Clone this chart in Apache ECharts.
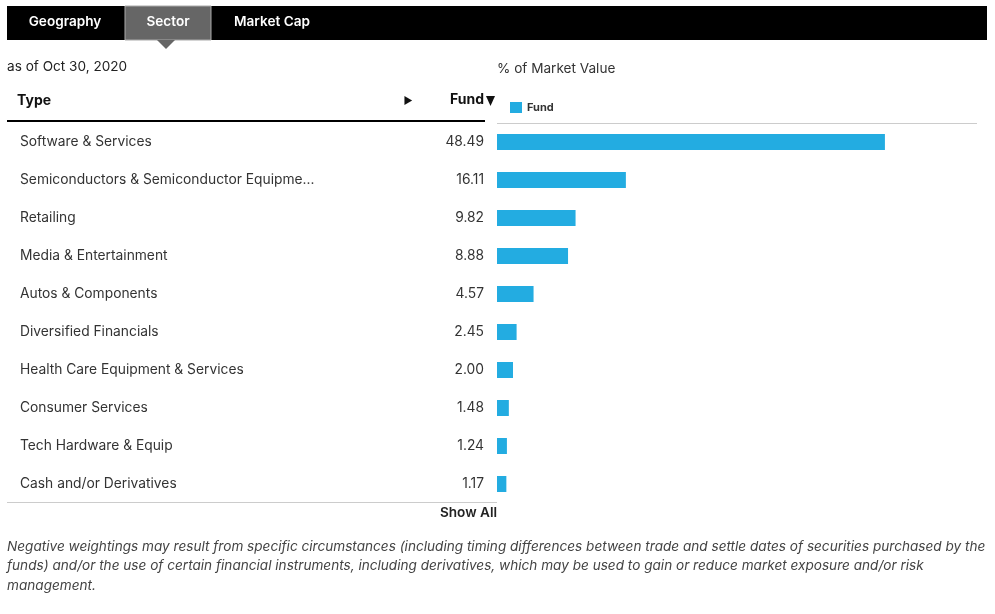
<!DOCTYPE html>
<html><head><meta charset="utf-8">
<script src="https://cdn.jsdelivr.net/npm/echarts@6/dist/echarts.min.js"></script>
<style>html,body{margin:0;padding:0;background:#fff}#c{width:995px;height:614px}</style>
</head><body><div id="c"></div>
<script>
const categories = ["Software & Services","Semiconductors & Semiconductor Equipme...","Retailing","Media & Entertainment","Autos & Components","Diversified Financials","Health Care Equipment & Services","Consumer Services","Tech Hardware & Equip","Cash and/or Derivatives"];
const fundValues = [48.49,16.11,9.82,8.88,4.57,2.45,2.00,1.48,1.24,1.17];
const tabs = ["Geography","Sector","Market Cap"];
const FF = "Inter, Roboto, sans-serif";
const chart = echarts.init(document.getElementById('c'));
const footnote = "Negative weightings may result from specific circumstances (including timing differences between trade and settle dates of securities purchased by the\nfunds) and/or the use of certain financial instruments, including derivatives, which may be used to gain or reduce market exposure and/or risk\nmanagement.";
chart.setOption({
  animation:false,
  textStyle:{fontFamily:FF},
  grid:{left:497,right:18,top:123,bottom:111},
  xAxis:{type:'value',min:0,max:60,show:false},
  yAxis:[
    {type:'category',data:categories,inverse:true,position:'left',axisLine:{show:false},axisTick:{show:false},
     axisLabel:{align:'left',margin:477,color:'#333',fontSize:13.8,fontFamily:FF,padding:[0,0,3,0]}},
    {type:'category',data:fundValues.map(v=>v.toFixed(2)),inverse:true,position:'left',axisLine:{show:false},axisTick:{show:false},
     axisLabel:{align:'right',margin:13,color:'#333',fontSize:13.8,fontFamily:FF,padding:[0,0,3,0]}}
  ],
  legend:{left:505,top:97,itemWidth:12,itemHeight:11,icon:'rect',itemGap:8,
    textStyle:{fontSize:11,fontWeight:'bold',color:'#333',fontFamily:FF},data:['Fund']},
  series:[{name:'Fund',type:'bar',data:fundValues,barWidth:16,itemStyle:{color:'#23ace1'}}],
  graphic:[
    {type:'rect',shape:{x:7,y:6,width:980,height:34},style:{fill:'#000'}},
    {type:'rect',shape:{x:125,y:6,width:86,height:34},style:{fill:'#666',stroke:'#aaa',lineWidth:1}},
    {type:'polygon',shape:{points:[[157,40],[175,40],[166,49]]},style:{fill:'#666'}},
    {type:'text',x:65,y:22,style:{text:tabs[0],fill:'#fff',font:"600 13.6px "+FF,align:'center',verticalAlign:'middle'}},
    {type:'text',x:168,y:22,style:{text:tabs[1],fill:'#fff',font:"600 13.6px "+FF,align:'center',verticalAlign:'middle'}},
    {type:'text',x:272,y:22,style:{text:tabs[2],fill:'#fff',font:"600 13.6px "+FF,align:'center',verticalAlign:'middle'}},
    {type:'text',x:7,y:67,style:{text:'as of Oct 30, 2020',fill:'#222',font:"13.6px "+FF,verticalAlign:'middle'}},
    {type:'text',x:497,y:69,style:{text:'% of Market Value',fill:'#333',font:"13.6px "+FF,verticalAlign:'middle'}},
    {type:'text',x:17,y:101,style:{text:'Type',fill:'#111',font:"bold 14px "+FF,verticalAlign:'middle'}},
    {type:'text',x:408,y:101,style:{text:'▶',fill:'#111',font:"10px "+FF,align:'center',verticalAlign:'middle'}},
    {type:'text',x:484,y:100,style:{text:'Fund',fill:'#111',font:"bold 14px "+FF,align:'right',verticalAlign:'middle'}},
    {type:'polygon',shape:{points:[[486,96],[495,96],[490.5,106]]},style:{fill:'#111'}},
    {type:'line',shape:{x1:7,y1:121,x2:485,y2:121},style:{stroke:'#000',lineWidth:2}},
    {type:'line',shape:{x1:497,y1:123.5,x2:977,y2:123.5},style:{stroke:'#ccc',lineWidth:1}},
    {type:'line',shape:{x1:7,y1:502.5,x2:497,y2:502.5},style:{stroke:'#ccc',lineWidth:1}},
    {type:'text',x:497,y:513,style:{text:'Show All',fill:'#222',font:"600 13.6px "+FF,align:'right',verticalAlign:'middle'}},
    {type:'text',x:7,y:537,style:{text:footnote,fill:'#444',font:"italic 13.6px "+FF,lineHeight:19.5}}
  ]
});
</script></body></html>
